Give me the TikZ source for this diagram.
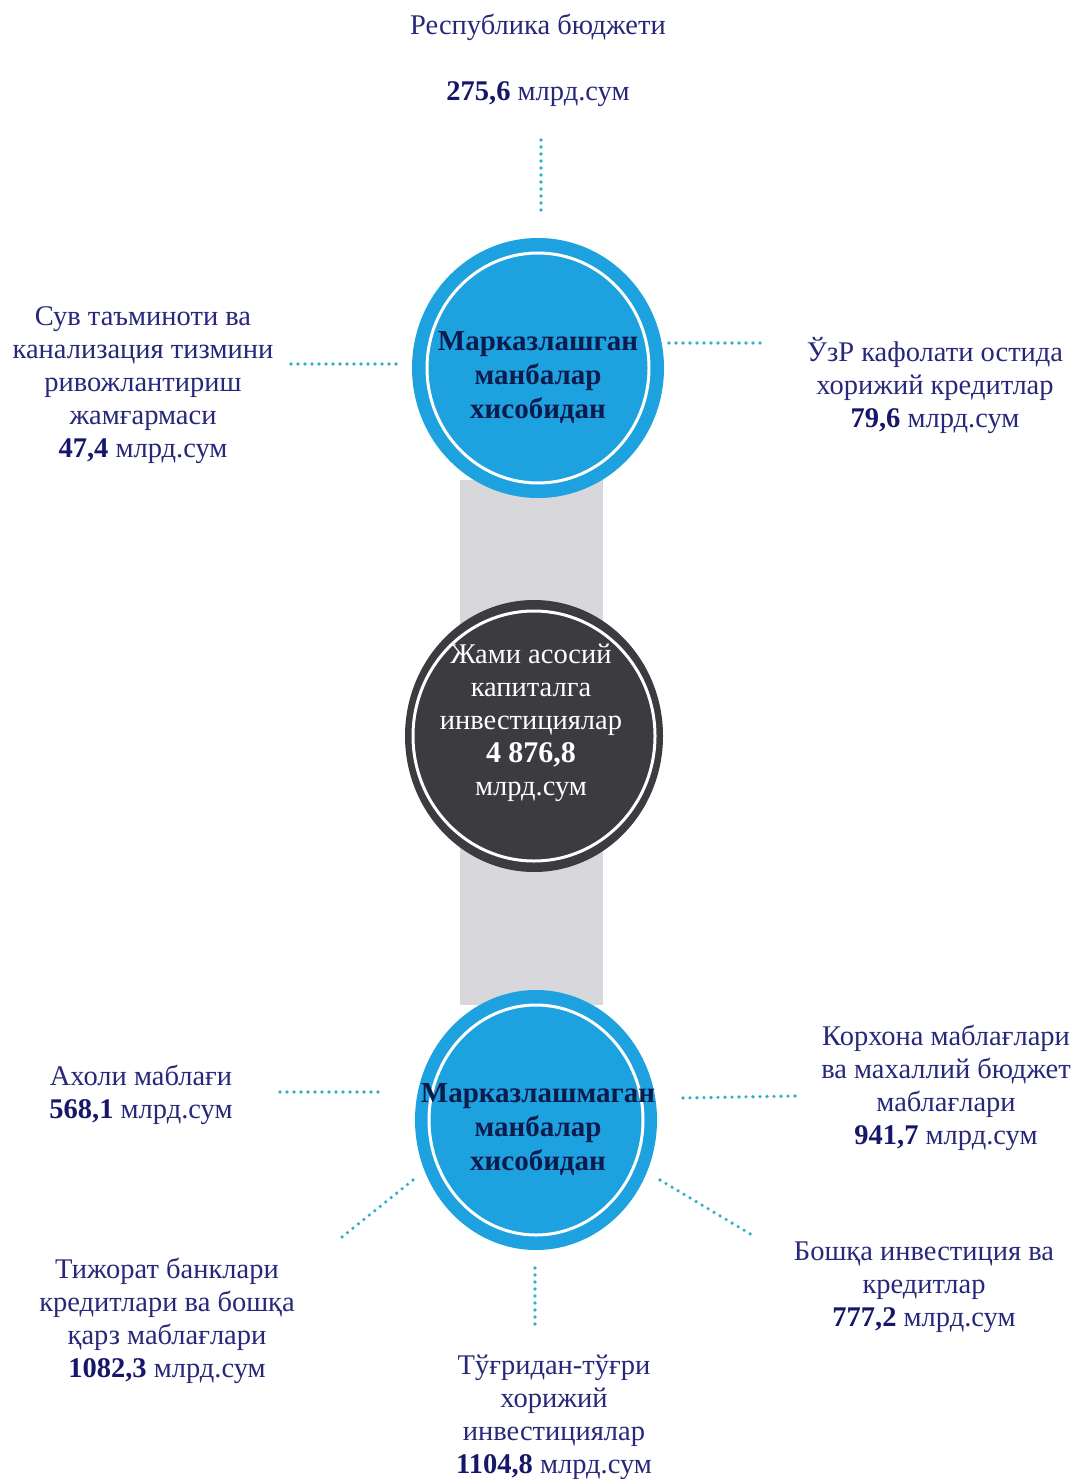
\documentclass[tikz,border=0pt]{standalone}
\usepackage{fontspec}
\setmainfont{Liberation Serif}
\usetikzlibrary{shapes.geometric}
\definecolor{navytxt}{HTML}{28287A}
\definecolor{navybold}{HTML}{16166A}
\definecolor{circtxt}{HTML}{0C1A4C}
\definecolor{cblue}{HTML}{1EA2DF}
\definecolor{cdark}{HTML}{3B3B40}
\definecolor{cgray}{HTML}{D8D8DC}
\definecolor{dotc}{HTML}{2FB2C9}
\begin{document}
\begin{tikzpicture}[x=1pt,y=-1pt,
  lbl/.style={align=center,text=navytxt,font=\fontsize{28.5}{33}\selectfont,inner sep=0pt},
  outerc/.style={ellipse,inner sep=0pt},
  ringc/.style={ellipse,draw=white,line width=3pt,inner sep=0pt},
  dotline/.style={draw=dotc,line width=3.6pt,line cap=round,dash pattern=on 0pt off 7pt},
  ctxt/.style={align=center,inner sep=0pt,font=\fontsize{29}{34}\selectfont\bfseries,text=circtxt},
]
\useasboundingbox[fill=white] (0,0) rectangle (1077,1479);
% gray bar
\fill[cgray] (460,480) rectangle (603,1005);
% circles
\node[outerc,fill=cblue,minimum width=252pt,minimum height=260pt] (top) at (538,368) {};
\node[ringc,minimum width=222pt,minimum height=230pt] (topr) at (top) {};
\node[ctxt] (topt) at (538,378) {Марказлашган\\манбалар\\хисобидан};
\node[outerc,fill=cdark,minimum width=258pt,minimum height=272pt] (mid) at (534,736) {};
\node[ringc,minimum width=242pt,minimum height=250pt] (midr) at (mid) {};
\node[lbl,text=white] (midt) at (531,723) {Жами асосий\\капиталга\\инвестициялар\\\textbf{\fontsize{30}{33}\selectfont 4 876,8}\\млрд.сум};
\node[outerc,fill=cblue,minimum width=242pt,minimum height=260pt] (bot) at (536,1120) {};
\node[ringc,minimum width=214pt,minimum height=230pt] (botr) at (bot) {};
\node[ctxt] (bott) at (538,1130) {Марказлашмаган\\манбалар\\хисобидан};
% labels
\node[lbl] (rep) at (538,60) {Республика бюджети\\[33pt]\textcolor{navybold}{\textbf{275,6}} млрд.сум};
\node[lbl] (suv) at (143,385) {Сув таъминоти ва\\канализация тизмини\\ривожлантириш\\жамғармаси\\\textcolor{navybold}{\textbf{47,4}} млрд.сум};
\node[lbl] (uzr) at (935,385) {ЎзР кафолати остида\\хорижий кредитлар\\\textcolor{navybold}{\textbf{79,6}} млрд.сум};
\node[lbl] (aholi) at (141,1095) {Ахоли маблағи\\\textcolor{navybold}{\textbf{568,1}} млрд.сум};
\node[lbl] (korh) at (946,1088) {Корхона маблағлари\\ва махаллий бюджет\\маблағлари\\\textcolor{navybold}{\textbf{941,7}} млрд.сум};
\node[lbl] (tij) at (167,1321) {Тижорат банклари\\кредитлари ва бошқа\\қарз маблағлари\\\textcolor{navybold}{\textbf{1082,3}} млрд.сум};
\node[lbl] (bosh) at (924,1287) {Бошқа инвестиция ва\\кредитлар\\\textcolor{navybold}{\textbf{777,2}} млрд.сум};
\node[lbl] (tug) at (554,1417) {Тўғридан-тўғри\\хорижий\\инвестициялар\\\textcolor{navybold}{\textbf{1104,8}} млрд.сум};
% connector end points
\coordinate (a1) at (541,140); \coordinate (a2) at (541,215);
\coordinate (b1) at (291,364); \coordinate (b2) at (403,364);
\coordinate (c1) at (669,343); \coordinate (c2) at (765,343);
\coordinate (d1) at (280,1092); \coordinate (d2) at (385,1092);
\coordinate (e1) at (683,1098); \coordinate (e2) at (796,1096);
\coordinate (f1) at (413,1180); \coordinate (f2) at (342,1237);
\coordinate (g1) at (660,1180); \coordinate (g2) at (752,1235);
\coordinate (h1) at (535,1268); \coordinate (h2) at (535,1328);
\foreach \p/\q in {a1/a2,b1/b2,c1/c2,d1/d2,e1/e2,f1/f2,g1/g2,h1/h2}
  \draw[dotline] (\p) -- (\q);
\end{tikzpicture}
\end{document}
